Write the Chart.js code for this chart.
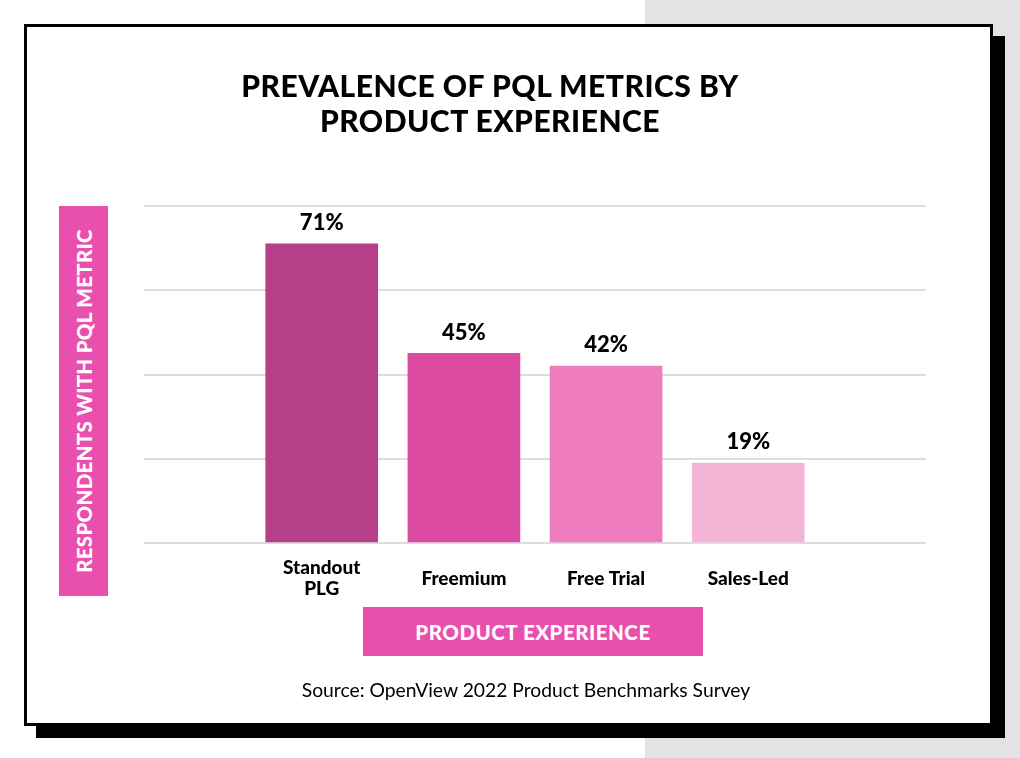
<!DOCTYPE html>
<html>
<head>
<meta charset="utf-8">
<script src="https://cdn.jsdelivr.net/npm/chart.js@4.4.0/dist/chart.umd.min.js"></script>
<style>
  body { margin: 0; width: 1020px; height: 758px; position: relative; background: #fff; overflow: hidden; font-family: Lato, sans-serif; }
  #grey { position: absolute; left: 645px; top: 0; width: 375px; height: 758px; background: #e3e3e3; }
  #card { position: absolute; left: 24px; top: 24px; width: 969px; height: 702px; box-sizing: border-box; border: 3px solid #000; background: #fff; box-shadow: 12px 12px 0 #000; }
  #chart { position: absolute; left: 0; top: 0; z-index: 2; }
  .txt { position: absolute; z-index: 3; }
  #title { left: 190px; width: 600px; top: 68px; text-align: center; font-weight: 900; font-size: 30px; line-height: 35px; color: #000; letter-spacing: 0.5px; }
  #ylab { left: 59px; top: 206px; width: 49px; height: 390px; background: #e94fae; color: #fff; font-weight: 900; font-size: 20.5px; display: flex; align-items: center; justify-content: center; }
  #ylab span { transform: rotate(-90deg); white-space: nowrap; letter-spacing: 0.3px; }
  #xlab { left: 363px; top: 607px; width: 340px; height: 49px; background: #e94fae; color: #fff; font-weight: 900; font-size: 20.5px; display: flex; align-items: center; justify-content: center; letter-spacing: 0.5px; }
  #source { left: 226px; width: 600px; top: 678px; text-align: center; font-size: 19.3px; color: #000; }
</style>
</head>
<body>
<div id="grey"></div>
<div id="card"></div>
<canvas id="chart" width="1020" height="758"></canvas>
<div id="title" class="txt">PREVALENCE OF PQL METRICS BY<br>PRODUCT EXPERIENCE</div>
<div id="ylab" class="txt"><span>RESPONDENTS WITH PQL METRIC</span></div>
<div id="xlab" class="txt">PRODUCT EXPERIENCE</div>
<div id="source" class="txt">Source: OpenView 2022 Product Benchmarks Survey</div>
<script>
'use strict';

// data
const categories = [['Standout', 'PLG'], 'Freemium', 'Free Trial', 'Sales-Led'];
const respondents = [71, 45, 42, 19];
const barColours = ['#b53f88', '#dc4aa2', '#ef7dbe', '#f4b5d6'];
const yTicks = [0, 20, 40, 60, 80];

// bars sit on a linear x scale so the spacing can be wider than the categories
const points = [];
for (let i = 0; i < respondents.length; i++) {
    points.push({x: i + 1, y: respondents[i]});
}

// percentage labels above each bar
const valueLabels = {
    id: 'valueLabels',
    afterDatasetsDraw(chart) {
        const ctx = chart.ctx;
        const meta = chart.getDatasetMeta(0);
        ctx.save();
        ctx.font = '900 22px Lato';
        ctx.fillStyle = '#000';
        ctx.textAlign = 'center';
        ctx.textBaseline = 'middle';
        meta.data.forEach(function (bar, i) {
            ctx.fillText(respondents[i] + '%', bar.x, bar.y - 21);
        });
        ctx.restore();
    }
};

const chart = new Chart(document.getElementById('chart').getContext('2d'), {
    type: 'bar',
    data: {
        datasets: [{
            data: points,
            backgroundColor: barColours,
            barThickness: 112
        }]
    },
    options: {
        responsive: false,
        animation: false,
        layout: {
            padding: {left: 144, right: 94, top: 206, bottom: 155}
        },
        plugins: {
            legend: {display: false},
            tooltip: {enabled: false}
        },
        scales: {
            x: {
                type: 'linear',
                offset: false,
                min: -0.25,
                max: categories.length + 1.25,
                grid: {display: false},
                border: {display: false},
                afterBuildTicks: function (scale) {
                    scale.ticks = categories.map(function (c, i) { return {value: i + 1}; });
                },
                afterFit: function (scale) { scale.height = 60; },
                ticks: {
                    autoSkip: false,
                    maxRotation: 0,
                    padding: 17,
                    crossAlign: 'center',
                    color: '#000',
                    font: {family: 'Lato', weight: '900', size: 19, lineHeight: 1.1},
                    callback: function (value) { return categories[value - 1]; }
                }
            },
            y: {
                min: yTicks[0],
                max: yTicks[yTicks.length - 1],
                afterBuildTicks: function (scale) {
                    scale.ticks = yTicks.map(function (v) { return {value: v}; });
                },
                afterFit: function (scale) { scale.width = 0; },
                ticks: {display: false},
                border: {display: false},
                grid: {color: '#dddddd', lineWidth: 2, drawTicks: false}
            }
        }
    },
    plugins: [valueLabels]
});
</script>
</body>
</html>
